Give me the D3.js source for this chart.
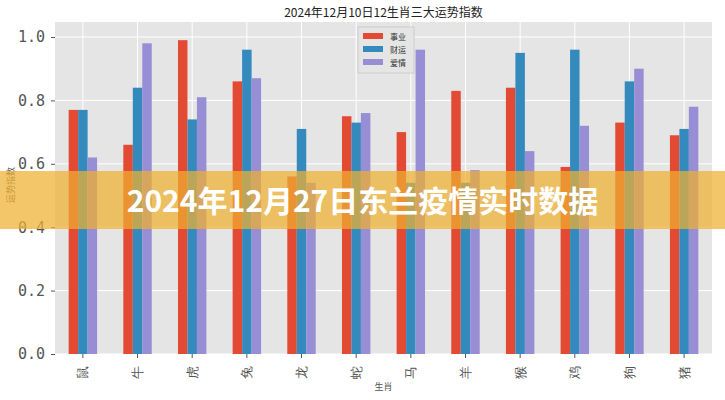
<!DOCTYPE html>
<html><head><meta charset="utf-8">
<script src="https://cdn.jsdelivr.net/npm/d3@7"></script>
<style>body{margin:0;background:#fff;font-family:"Noto Sans CJK SC","DejaVu Sans",sans-serif}</style>
</head><body>
<script>
const width = 725, height = 400;
const categories = ["鼠","牛","虎","兔","龙","蛇","马","羊","猴","鸡","狗","猪"];
const seriesNames = ["事业","财运","爱情"];
const career = [0.77,0.66,0.99,0.86,0.56,0.75,0.70,0.83,0.84,0.59,0.73,0.69];
const wealth = [0.77,0.84,0.74,0.96,0.71,0.73,0.54,0.54,0.95,0.96,0.86,0.71];
const love   = [0.62,0.98,0.81,0.87,0.54,0.76,0.96,0.58,0.64,0.72,0.90,0.78];
const yTicks = [0,0.2,0.4,0.6,0.8,1.0];
const colors = ["#e24a33","#348abd","#988ed5"];
const series = [career, wealth, love];

const m = {left:55, right:13, top:22, bottom:46};
const svg = d3.select("body").append("svg").attr("width", width).attr("height", height);

const x = d3.scaleBand().domain(categories).range([m.left, width-m.right]).paddingInner(0.48).paddingOuter(0.25);
const xs = d3.scaleBand().domain(d3.range(3)).range([0, x.bandwidth()]);
const y = d3.scaleLinear().domain([0,1.05]).range([height-m.bottom, height-m.bottom-(1.05*317)]);

svg.append("rect").attr("x", m.left).attr("y", m.top).attr("width", width-m.left-m.right)
  .attr("height", height-m.top-m.bottom).attr("fill", "#e5e5e5");

// grid
svg.append("g").selectAll("line").data(yTicks).join("line")
  .attr("x1", m.left).attr("x2", width-m.right).attr("y1", d=>y(d)).attr("y2", d=>y(d))
  .attr("stroke", "#fff").attr("stroke-width", 1);
svg.append("g").selectAll("line").data(categories).join("line")
  .attr("y1", m.top).attr("y2", height-m.bottom).attr("x1", d=>x(d)+x.bandwidth()/2).attr("x2", d=>x(d)+x.bandwidth()/2)
  .attr("stroke", "#fff").attr("stroke-width", 1);

// bars
series.forEach((vals, si) => {
  svg.append("g").selectAll("rect").data(vals).join("rect")
    .attr("x", (d,i)=>x(categories[i])+xs(si))
    .attr("width", xs.bandwidth())
    .attr("y", d=>y(d)).attr("height", d=>y(0)-y(d))
    .attr("fill", colors[si]);
});

// axes
const yAxis = svg.append("g").attr("transform", `translate(${m.left},0)`)
  .call(d3.axisLeft(y).tickValues(yTicks).tickFormat(d3.format(".1f")).tickSize(4).tickPadding(6));
yAxis.select(".domain").remove();
yAxis.selectAll("line").attr("stroke", "#555");
yAxis.selectAll("text").attr("font-size", 15).attr("fill", "#555").attr("font-family", "DejaVu Sans Mono, monospace");

const xAxis = svg.append("g").attr("transform", `translate(0,${height-m.bottom})`)
  .call(d3.axisBottom(x).tickSize(4).tickPadding(4));
xAxis.select(".domain").remove();
xAxis.selectAll("line").attr("stroke", "#555");
xAxis.selectAll("text").attr("font-size", 13).attr("fill", "#555")
  .attr("transform", "rotate(-90)").attr("text-anchor", "end").attr("dx", "-0.3em").attr("dy", "0.35em")
  .attr("x", -8).attr("y", 0);

svg.append("text").attr("x", (m.left+width-m.right)/2).attr("y", 390).attr("text-anchor", "middle")
  .attr("font-size", 9).attr("fill", "#555").text("生肖");
svg.append("text").attr("transform", "translate(14,185) rotate(-90)").attr("text-anchor", "middle")
  .attr("font-size", 9).attr("fill", "#555").text("运势指数");
svg.append("text").attr("x", (m.left+width-m.right)/2).attr("y", 17).attr("text-anchor", "middle")
  .attr("font-size", 12).attr("fill", "#222").text("2024年12月10日12生肖三大运势指数");

// legend
const lg = svg.append("g").attr("transform", "translate(358,27)");
lg.append("rect").attr("width", 56).attr("height", 46).attr("fill", "#e5e5e5").attr("stroke", "#ccc");
seriesNames.forEach((n,i) => {
  lg.append("rect").attr("x", 5).attr("y", 6+i*13).attr("width", 20).attr("height", 6).attr("fill", colors[i]);
  lg.append("text").attr("x", 32).attr("y", 13+i*13).attr("font-size", 8).attr("fill", "#333").text(n);
});

// banner
svg.append("rect").attr("x", 0).attr("y", 171).attr("width", width).attr("height", 58)
  .attr("fill", "#f0b030").attr("opacity", 0.72);
svg.append("text").attr("x", width/2).attr("y", 212).attr("text-anchor", "middle")
  .attr("font-size", 30).attr("font-weight", "bold").attr("fill", "#fff").text("2024年12月27日东兰疫情实时数据");
</script>
</body></html>
